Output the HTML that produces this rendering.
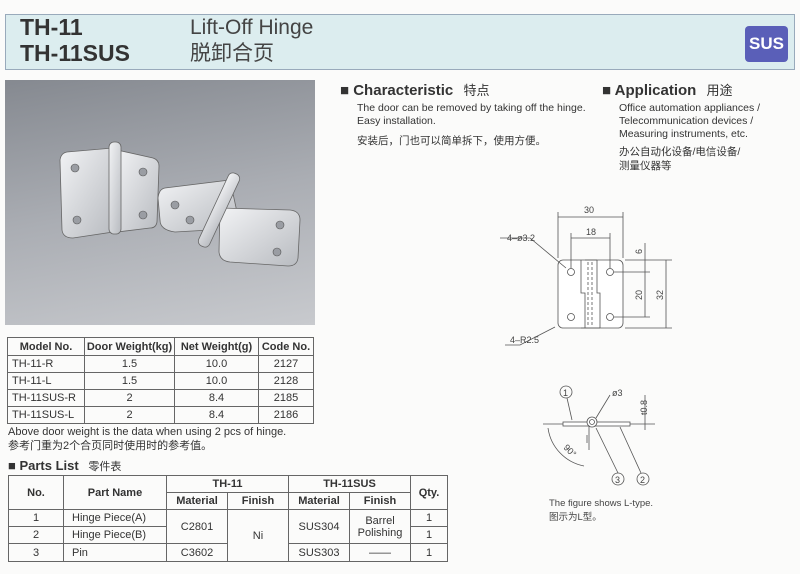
<!DOCTYPE html>
<html><head><meta charset="utf-8"><style>
body{margin:0;width:800px;height:574px;background:#fbfbfa;position:relative;overflow:hidden;font-family:"Liberation Sans","Noto Sans CJK SC",sans-serif;color:#333}
.a{position:absolute;white-space:nowrap}
table{border-collapse:collapse;position:absolute;font-size:11px}
td{border:1px solid #666;padding:0;text-align:center;color:#333}
th{border:1px solid #666;padding:0;font-weight:bold;color:#333}
</style></head><body>
<div class="a" style="left:5px;top:14px;width:788px;height:54px;background:#dcedef;border:1px solid #9ab"></div>
<div class="a" style="left:20px;top:14px;font-size:23px;font-weight:bold;line-height:26px;color:#333">TH-11<br>TH-11SUS</div>
<div class="a" style="left:190px;top:15px;font-size:21px;line-height:26px;color:#444">Lift-Off Hinge<br>脱卸合页</div>
<div class="a" style="left:745px;top:26px;width:43px;height:36px;background:#5a5fb8;border-radius:4px;color:#fff;font-weight:bold;font-size:17px;text-align:center;line-height:36px">SUS</div>

<div class="a" style="left:5px;top:80px;width:310px;height:245px;background:linear-gradient(170deg,#858990,#aaadb3 50%,#c8cace)"></div>
<svg class="a" style="left:5px;top:80px" width="310" height="245">
<defs><linearGradient id="m" x1="0" y1="0" x2="1" y2="1"><stop offset="0" stop-color="#f2f3f5"/><stop offset="1" stop-color="#b8bbc0"/></linearGradient></defs>
<g fill="url(#m)" stroke="#666" stroke-width="0.8">
<path d="M62 72 L108 68 L108 152 L68 158 Q58 158 57 150 L55 80 Q56 73 62 72Z"/>
<path d="M112 70 L148 78 Q154 80 154 86 L152 142 Q151 148 145 148 L112 152Z"/>
<rect x="104" y="62" width="12" height="92" rx="5"/>
<path d="M160 108 L225 100 L232 132 L205 150 L170 152 Q155 150 155 140 L153 118 Q154 109 160 108Z"/>
<path d="M215 128 L285 130 Q295 131 295 140 L293 178 Q292 186 283 186 L225 182 Q215 181 214 172 Z"/>
<rect x="208" y="90" width="12" height="80" rx="5" transform="rotate(25 214 130)"/>
</g>
<g fill="#9a9da3" stroke="#555" stroke-width="0.6">
<circle cx="70" cy="88" r="4"/><circle cx="72" cy="140" r="4"/><circle cx="138" cy="92" r="4"/><circle cx="138" cy="135" r="4"/>
<circle cx="170" cy="125" r="4"/><circle cx="185" cy="140" r="4"/><circle cx="275" cy="145" r="4"/><circle cx="272" cy="172" r="4"/>
</g></svg>

<table style="left:7px;top:337px;width:307px">
<tr style="height:18px"><th style="width:76px">Model No.</th><th style="width:89px">Door Weight(kg)</th><th style="width:83px">Net Weight(g)</th><th>Code No.</th></tr>
<tr style="height:17px"><td style="text-align:left;padding-left:4px">TH-11-R</td><td>1.5</td><td>10.0</td><td>2127</td></tr>
<tr style="height:17px"><td style="text-align:left;padding-left:4px">TH-11-L</td><td>1.5</td><td>10.0</td><td>2128</td></tr>
<tr style="height:17px"><td style="text-align:left;padding-left:4px">TH-11SUS-R</td><td>2</td><td>8.4</td><td>2185</td></tr>
<tr style="height:17px"><td style="text-align:left;padding-left:4px">TH-11SUS-L</td><td>2</td><td>8.4</td><td>2186</td></tr>
</table>
<div class="a" style="left:8px;top:425px;font-size:11px;line-height:14px">Above door weight is the data when using 2 pcs of hinge.<br>参考门重为2个合页同时使用时的参考值。</div>
<div class="a" style="left:8px;top:458px;font-size:13px;font-weight:bold">■ Parts List <span style="font-weight:normal;font-size:11px;margin-left:6px">零件表</span></div>
<table style="left:8px;top:475px;width:440px">
<tr style="height:17px"><th rowspan="2" style="width:54px">No.</th><th rowspan="2" style="width:102px">Part Name</th><th colspan="2">TH-11</th><th colspan="2">TH-11SUS</th><th rowspan="2">Qty.</th></tr>
<tr style="height:17px"><th style="width:60px">Material</th><th style="width:60px">Finish</th><th style="width:60px">Material</th><th style="width:60px">Finish</th></tr>
<tr style="height:17px"><td>1</td><td style="text-align:left;padding-left:8px">Hinge Piece(A)</td><td rowspan="2">C2801</td><td rowspan="3">Ni</td><td rowspan="2">SUS304</td><td rowspan="2">Barrel<br>Polishing</td><td>1</td></tr>
<tr style="height:17px"><td>2</td><td style="text-align:left;padding-left:8px">Hinge Piece(B)</td><td>1</td></tr>
<tr style="height:18px"><td>3</td><td style="text-align:left;padding-left:8px">Pin</td><td>C3602</td><td>SUS303</td><td>——</td><td>1</td></tr>
</table>

<div class="a" style="left:340px;top:80px;font-size:15px;font-weight:bold">■ Characteristic <span style="font-weight:normal;font-size:13px;margin-left:6px">特点</span></div>
<div class="a" style="left:357px;top:102px;font-size:10.5px;line-height:13px">The door can be removed by taking off the hinge.<br>Easy installation.</div>
<div class="a" style="left:357px;top:133px;font-size:10.5px">安装后，门也可以简单拆下，使用方便。</div>
<div class="a" style="left:602px;top:80px;font-size:15px;font-weight:bold">■ Application <span style="font-weight:normal;font-size:13px;margin-left:6px">用途</span></div>
<div class="a" style="left:619px;top:102px;font-size:10.5px;line-height:13px">Office automation appliances /<br>Telecommunication devices /<br>Measuring instruments, etc.</div>
<div class="a" style="left:619px;top:145px;font-size:10.5px;line-height:14px">办公自动化设备/电信设备/<br>测量仪器等</div>

<svg class="a" style="left:0;top:0" width="800" height="574" font-family="Liberation Sans" font-size="9" fill="none" stroke="#555" stroke-width="0.8">
<rect x="558" y="260" width="65" height="68" rx="5" fill="#fff"/>
<path d="M581 260 V293 H585 V328 M597 260 V293 H600 V328" />
<path d="M585 260 H597 M581 328 H600"/>
<line x1="588" y1="262" x2="588" y2="326" stroke-dasharray="3 2"/><line x1="592" y1="262" x2="592" y2="326" stroke-dasharray="3 2"/>
<g fill="#fff"><circle cx="571" cy="272" r="3.5"/><circle cx="610" cy="272" r="3.5"/><circle cx="571" cy="317" r="3.5"/><circle cx="610" cy="317" r="3.5"/></g>
<path d="M558 258 V212 M623 258 V212 M558 217 H623 M571 268 V233 M610 268 V233 M571 238 H610"/>
<path d="M625 260 H672 M614 272 H650 M614 317 H650 M625 328 H672 M645 243 V317 M666 260 V328"/>
<path d="M500 238 H530 L566 268 M505 345 H520 L555 327"/>
<g fill="#444" stroke="none" font-size="9">
<text x="584" y="213">30</text><text x="586" y="235">18</text>
<text x="507" y="241">4–ø3.2</text><text x="510" y="343">4–R2.5</text>
<text transform="translate(642 254) rotate(-90)">6</text>
<text transform="translate(642 300) rotate(-90)">20</text>
<text transform="translate(663 300) rotate(-90)">32</text>
<text transform="translate(647 415) rotate(-90)">t0.8</text>
<text x="612" y="396">ø3</text>
<text transform="translate(563 448) rotate(45)">90°</text>
<text x="549" y="506" font-size="9.5">The figure shows L-type.</text>
<text x="549" y="520" font-size="9.5">图示为L型。</text>
</g>
<path d="M543 424 H655"/>
<rect x="563" y="422" width="67" height="4" fill="#fff"/>
<circle cx="592" cy="422" r="5" fill="#fff"/><circle cx="592" cy="422" r="2.5"/>
<path d="M589 426 V450 M587 435 V443 M645 395 V430"/>
<circle cx="566" cy="392" r="6"/><text x="563" y="396" fill="#444" stroke="none">1</text>
<circle cx="618" cy="479" r="6"/><text x="615" y="483" fill="#444" stroke="none">3</text>
<circle cx="643" cy="479" r="6"/><text x="640" y="483" fill="#444" stroke="none">2</text>
<path d="M567 398 L572 420 M618 473 L596 428 M641 473 L620 427 M610 395 L596 418"/>
<path d="M548 428 A45 45 0 0 0 584 466"/>
</svg>
</body></html>
